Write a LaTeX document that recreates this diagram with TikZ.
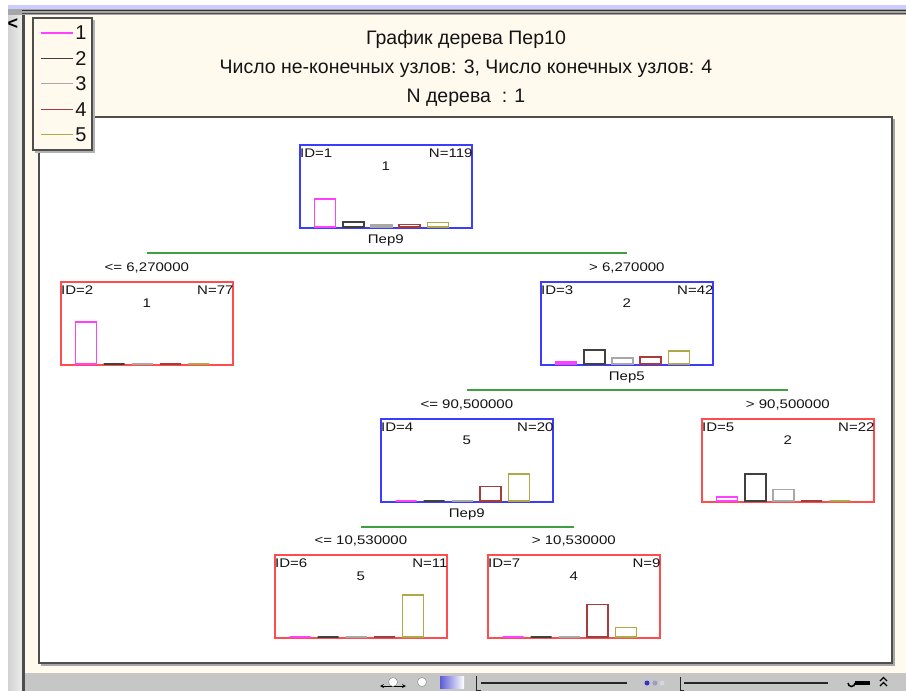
\documentclass[tikz,border=0pt]{standalone}
\usepackage{fontspec}
\setmainfont{Liberation Sans}
\newfontfamily\nodefont[FakeStretch=1.2]{Liberation Sans}
\usepackage{xcolor}
\usetikzlibrary{calc,positioning}
\definecolor{cream}{HTML}{FFF9EE}
\definecolor{framegray}{HTML}{4E4E4E}
\definecolor{boxblue}{HTML}{3C3CFF}
\definecolor{boxred}{HTML}{FF4C4C}
\definecolor{splitgreen}{HTML}{3FA03F}
\definecolor{bar0}{HTML}{FF40FF}
\definecolor{bar1}{HTML}{404040}
\definecolor{bar2}{HTML}{A8A8A8}
\definecolor{bar3}{HTML}{A83C3C}
\definecolor{bar4}{HTML}{B0A848}
\tikzset{
  splitbox/.style={draw=boxblue, line width=1.7pt, minimum width=172pt, minimum height=83pt, inner sep=0pt},
  leafbox/.style={draw=boxred, line width=1.7pt, minimum width=172pt, minimum height=83pt, inner sep=0pt},
  smalltext/.style={font=\nodefont\fontsize{12.5}{14}\selectfont, inner sep=0pt, text=black!92},
  titletext/.style={font=\fontsize{19.5}{22}\selectfont, inner sep=0pt, text=black!92},
  legtext/.style={font=\fontsize{20}{22}\selectfont, inner sep=0pt, text=black!92},
  bar/.style={line width=1.6pt},
  split/.style={draw=splitgreen, line width=1.3pt}
}
% box with id, size, class and five class bars
\newcommand{\treebox}[8]{%
  \node[#4, anchor=north west] (#1) at (#2,#3) {};
  \node[smalltext, anchor=base west] (#1id) at ($(#1.north west)+(1,13)$) {ID=#5};
  \node[smalltext, anchor=base east] (#1n) at ($(#1.north east)+(0,13)$) {N=#6};
  \node[smalltext, anchor=base] (#1cl) at ($(#1.north)+(0,26)$) {#7};
  \foreach \cnt [count=\i from 0] in {#8} {
    \pgfmathsetmacro\barh{\cnt/#6*42}
    \draw[bar, draw=bar\i] ({#2+15.5+28.2*\i},{#3+83}) rectangle ++(21,-\barh);
  }
}
\begin{document}
\begin{tikzpicture}[x=1pt, y=-1pt]
  \useasboundingbox (0,0) rectangle (906,691);
  % window chrome
  \fill[white] (0,0) rectangle (906,691);
  \fill[blue!20!white] (8,5) rectangle (906,9);
  \fill[gray!70] (8,9) rectangle (906,15);
  \draw[gray!40!black, line width=0.8pt] (22,10.5) -- (906,10.5);
  \draw[gray!60!black, line width=0.8pt] (22,13.8) -- (906,13.8);
  \shade[left color=gray!35, right color=gray!15] (8,15) rectangle (22,691);
  \fill[gray!60!black] (22,15) rectangle (25,691);
  \fill[cream] (25,15) rectangle (906,673);
  \fill[gray!45] (25,673) rectangle (906,691);
  \node[font=\fontsize{18}{20}\selectfont\bfseries, inner sep=0pt] (back) at (13,24) {<};

  % plot area
  \draw[gray!70, line width=1.5pt] (41,665) -- (894,665) -- (894,119);
  \draw[framegray, line width=1.5pt, fill=white] (39,117) rectangle (892,663);

  % titles
  \node[titletext] (title) at (466,39) {График дерева Пер10};
  \node[titletext] (count) at (466,69) {Число не-конечных узлов: 3, Число конечных узлов: 4};
  \node[titletext] (treeno) at (466,98) {N дерева~~: 1};

  % legend
  \draw[gray!60, line width=1.2pt] (35,152) -- (94,152) -- (94,20);
  \draw[framegray, line width=1.2pt, fill=cream] (33,18) rectangle (92,150);
  \foreach \k [count=\i from 0] in {1,...,5} {
    \coordinate (l\k) at (41,{33+25.4*\i});
    \draw[bar\i, line width=1.3pt] (l\k) -- ++(32,0);
    \node[legtext] (lt\k) at ($(l\k)+(40,0)$) {\k};
  }

  % tree
  \treebox{n1}{299}{144}{splitbox}{1}{119}{1}{79,14,6,7,13}
  \treebox{n2}{60}{281}{leafbox}{2}{77}{1}{77,0,0,0,0}
  \treebox{n3}{540}{281}{splitbox}{3}{42}{2}{2,14,6,7,13}
  \treebox{n4}{380}{418}{splitbox}{4}{20}{5}{0,0,0,7,13}
  \treebox{n5}{701}{418}{leafbox}{5}{22}{2}{2,14,6,0,0}
  \treebox{n6}{274}{554}{leafbox}{6}{11}{5}{0,0,0,0,11}
  \treebox{n7}{487}{554}{leafbox}{7}{9}{4}{0,0,0,7,2}

  \node[smalltext, anchor=base] (v1) at ($(n1.south)+(0,15)$) {Пер9};
  \node[smalltext, anchor=base] (v3) at ($(n3.south)+(0,15)$) {Пер5};
  \node[smalltext, anchor=base] (v4) at ($(n4.south)+(0,15)$) {Пер9};

  \coordinate (s1) at (0,253);
  \coordinate (s3) at (0,390);
  \coordinate (s4) at (0,527);
  \draw[split] (n2.north |- s1) -- (n3.north |- s1);
  \draw[split] (n4.north |- s3) -- (n5.north |- s3);
  \draw[split] (n6.north |- s4) -- (n7.north |- s4);

  \node[smalltext, anchor=base] (c2) at ($(n2.north)+(0,-10)$) {<= 6,270000};
  \node[smalltext, anchor=base] (c3) at ($(n3.north)+(0,-10)$) {> 6,270000};
  \node[smalltext, anchor=base] (c4) at ($(n4.north)+(0,-10)$) {<= 90,500000};
  \node[smalltext, anchor=base] (c5) at ($(n5.north)+(0,-10)$) {> 90,500000};
  \node[smalltext, anchor=base] (c6) at ($(n6.north)+(0,-10)$) {<= 10,530000};
  \node[smalltext, anchor=base] (c7) at ($(n7.north)+(0,-10)$) {> 10,530000};

  % toolbar
  \draw[black, line width=0.8pt, <->, >=stealth] (380,686) -- (406,686);
  \fill[white, draw=gray] (393,682) circle (4.5);
  \fill[white, draw=gray] (422,682) circle (4.5);
  \shade[left color=blue!60!gray!80, right color=white] (440,676) rectangle (464,688);
  \draw[gray!30!black, line width=1pt] (476,676) -- (476,690) -- (481,690);
  \draw[gray!30!black, line width=1.2pt] (481,683) -- (627,683);
  \fill[blue!60!gray] (647,683) circle (2.5);
  \fill[blue!30!gray!60] (655,683) circle (2.5);
  \fill[blue!10!gray!30] (662,683) circle (2.5);
  \draw[gray!30!black, line width=1pt] (680,677) -- (680,690) -- (684,690);
  \draw[gray!30!black, line width=1.2pt] (684,683) -- (828,683);
  \fill[black] (855,681) rectangle (870,685);
  \draw[black, line width=1.5pt] (848,683) arc (180:0:3.5);
  \draw[black, line width=1.2pt] (880,681) -- (883.5,677.5) -- (887,681);
  \draw[black, line width=1.2pt] (880,686) -- (883.5,682.5) -- (887,686);
\end{tikzpicture}
\end{document}
